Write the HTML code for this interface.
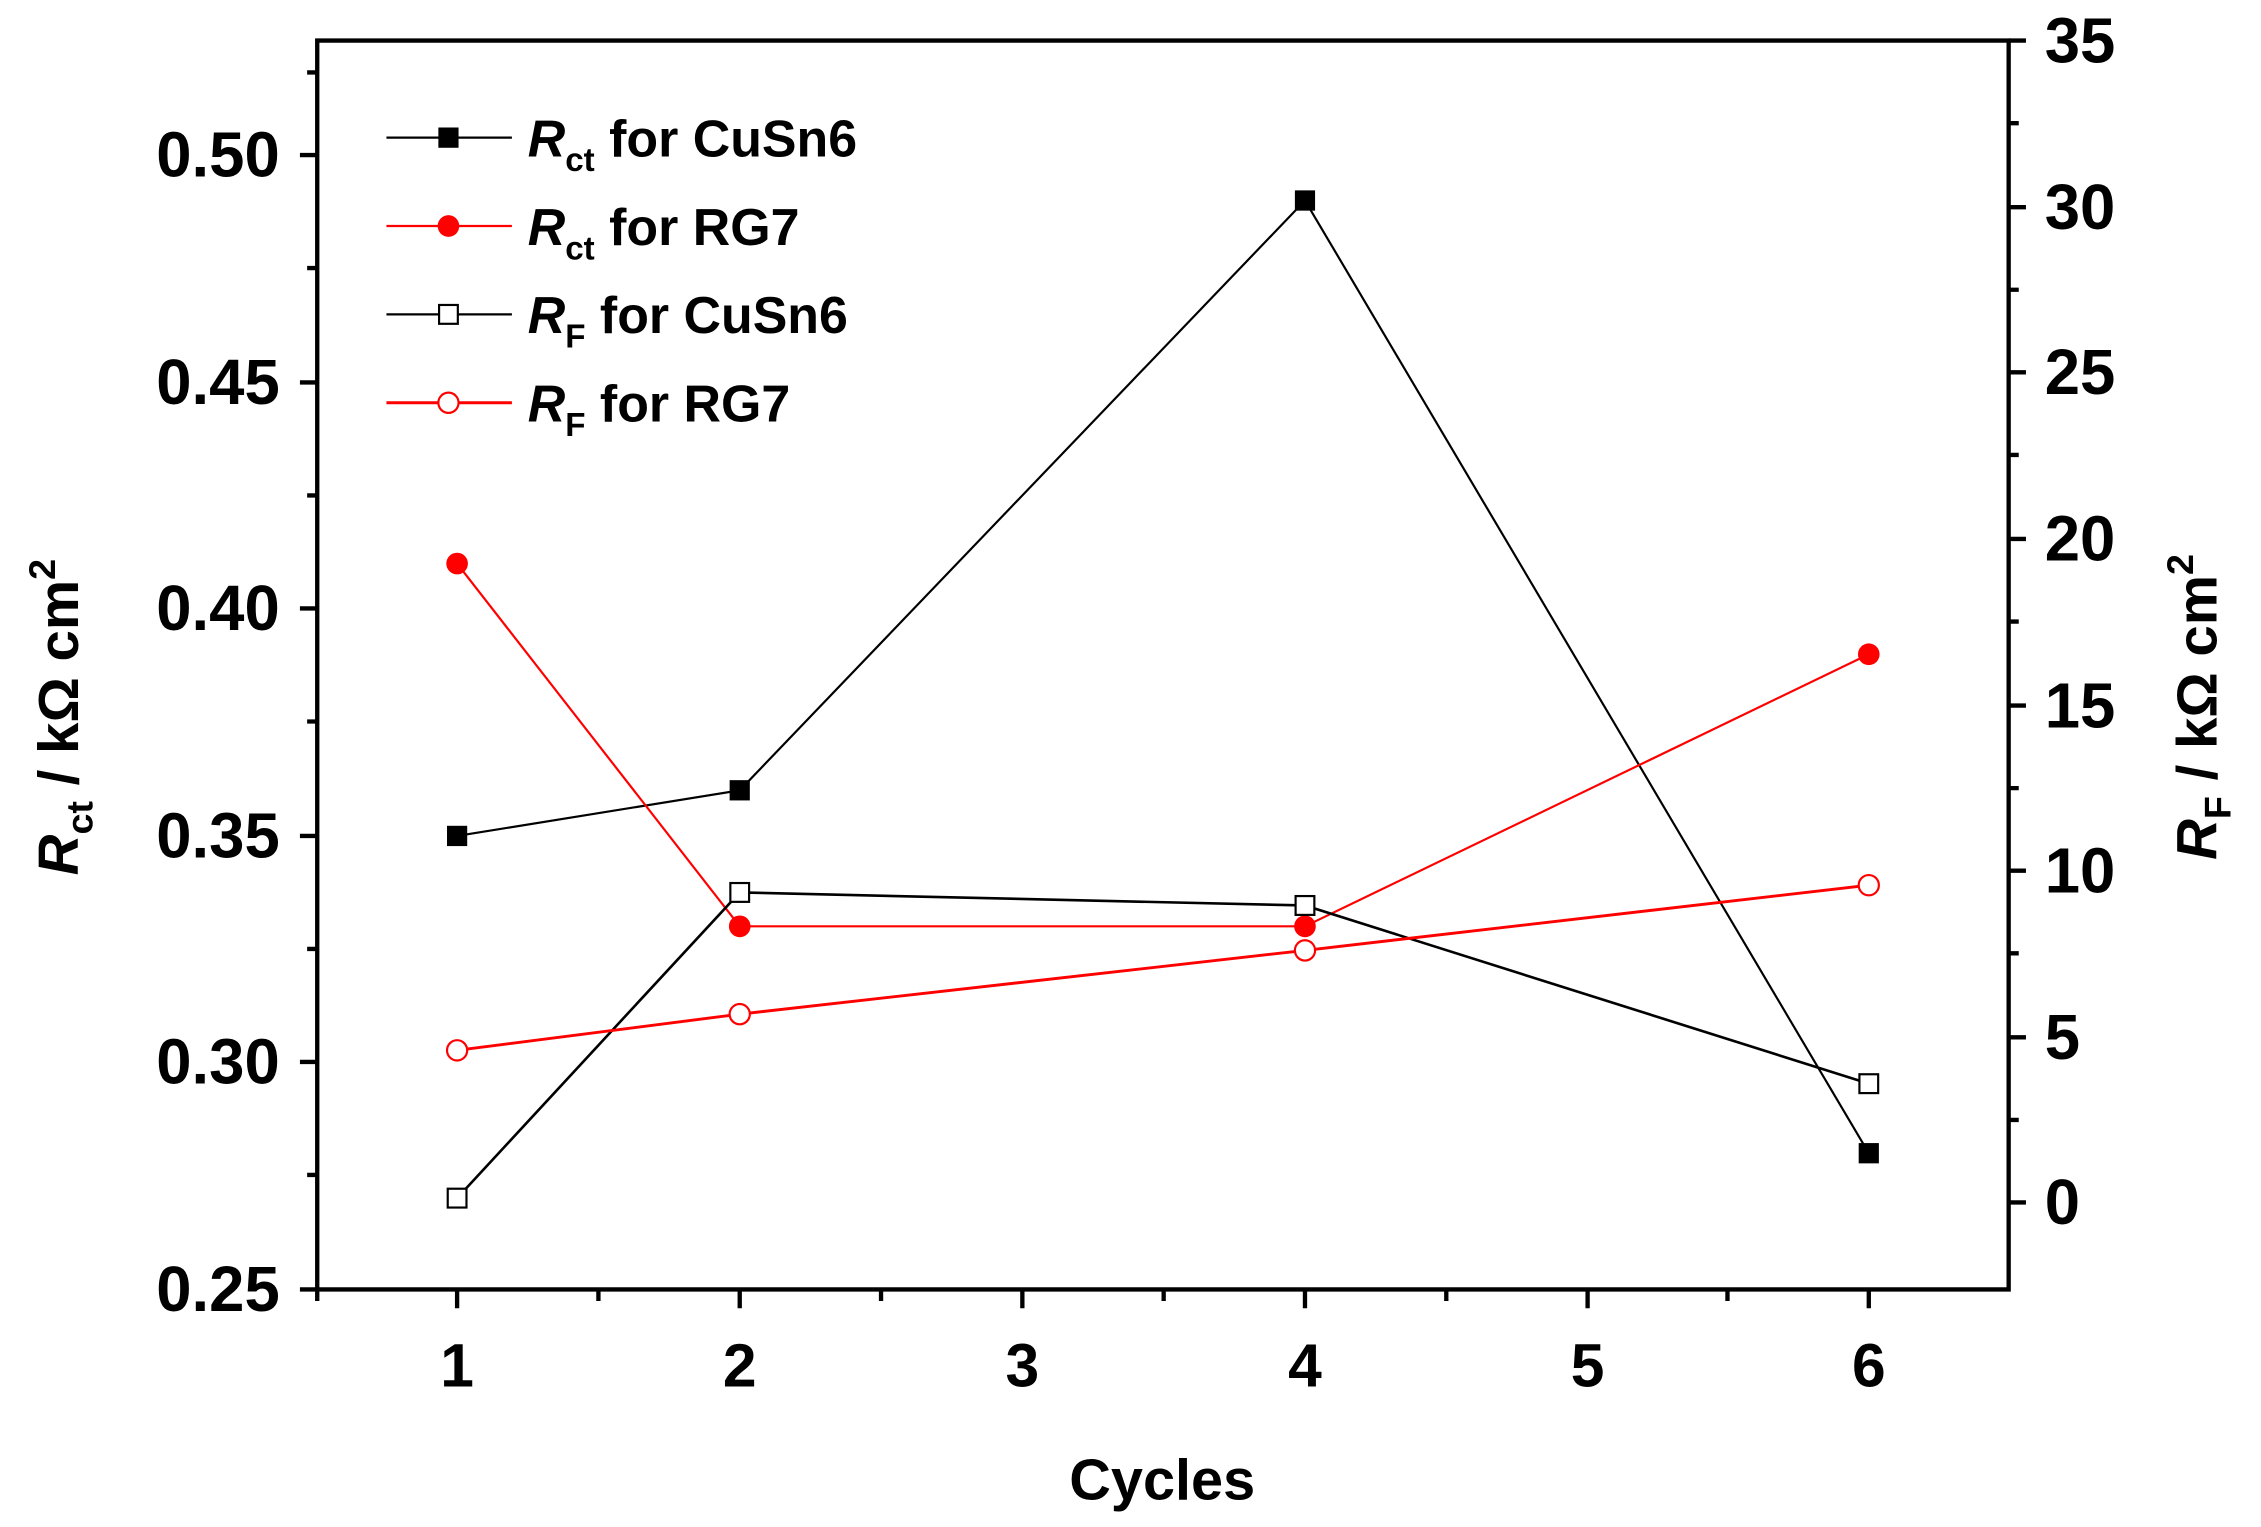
<!DOCTYPE html>
<html><head><meta charset="utf-8"><style>
html,body{margin:0;padding:0;background:#fff;}
svg{display:block;}
text{font-family:"Liberation Sans",Arial,sans-serif;font-weight:bold;fill:#000;}
</style></head><body>
<svg width="2261" height="1527" viewBox="0 0 1568 1054" preserveAspectRatio="none" xmlns="http://www.w3.org/2000/svg">
<rect width="1568" height="1054" fill="#fff"/>
<g stroke="#000" stroke-width="3" fill="none">
<path d="M220 28 H1393 V890 H220 Z"/>
<path d="M220 107h-12M220 264h-12M220 420h-12M220 577h-12M220 733h-12M220 890h-12"/>
<path d="M220 185h-7M220 342h-7M220 498h-7M220 655h-7M220 811h-7M220 50h-7"/>
<path d="M1393 28h12M1393 143h12M1393 257h12M1393 372h12M1393 487h12M1393 601h12M1393 716h12M1393 830h12"/>
<path d="M1393 85h7M1393 200h7M1393 314h7M1393 429h7M1393 544h7M1393 658h7M1393 773h7"/>
<path d="M317 890v13M513 890v13M709 890v13M905 890v13M1101 890v13M1296 890v13"/>
<path d="M220 890v8M415 890v8M611 890v8M807 890v8M1003 890v8M1198 890v8"/>
</g>
<g font-size="44" text-anchor="end">
<text x="194" y="122">0.50</text><text x="194" y="279">0.45</text><text x="194" y="435">0.40</text>
<text x="194" y="592">0.35</text><text x="194" y="748">0.30</text><text x="194" y="905">0.25</text>
</g>
<g font-size="44" text-anchor="start">
<text x="1418" y="43">35</text><text x="1418" y="158">30</text><text x="1418" y="272">25</text>
<text x="1418" y="387">20</text><text x="1418" y="502">15</text><text x="1418" y="616">10</text>
<text x="1418" y="731">5</text><text x="1418" y="845">0</text>
</g>
<g font-size="42" text-anchor="middle">
<text x="317" y="957">1</text><text x="513" y="957">2</text><text x="709" y="957">3</text>
<text x="905" y="957">4</text><text x="1101" y="957">5</text><text x="1296" y="957">6</text>
</g>
<text font-size="40" text-anchor="middle" x="806" y="1035">Cycles</text>
<text font-size="39" text-anchor="middle" transform="translate(54 495) rotate(-90)"><tspan font-style="italic">R</tspan><tspan font-size="26" dy="10">ct</tspan><tspan dy="-10"> / kΩ cm</tspan><tspan font-size="26" dy="-16">2</tspan></text>
<text font-size="39" text-anchor="middle" transform="translate(1537 488) rotate(-90)"><tspan font-style="italic">R</tspan><tspan font-size="26" dy="10">F</tspan><tspan dy="-10"> / kΩ cm</tspan><tspan font-size="26" dy="-16">2</tspan></text>
<polyline points="317,577 513,545.5 905,138.4 1296,796" fill="none" stroke="#000" stroke-width="1.5"/>
<polyline points="317,389 513,639.4 905,639.4 1296,451.6" fill="none" stroke="#f00" stroke-width="1.5"/>
<polyline points="317,827 513,616 905,625 1296,748" fill="none" stroke="#000" stroke-width="1.8"/>
<polyline points="317,725 513,700 905,656 1296,611" fill="none" stroke="#f00" stroke-width="2"/>
<g fill="#000"><rect x="310" y="570" width="14" height="14"/><rect x="506" y="538.5" width="14" height="14"/><rect x="898" y="131.4" width="14" height="14"/><rect x="1289" y="789" width="14" height="14"/></g>
<g fill="#f00"><circle cx="317" cy="389" r="7.5"/><circle cx="513" cy="639.4" r="7.5"/><circle cx="905" cy="639.4" r="7.5"/><circle cx="1296" cy="451.6" r="7.5"/></g>
<g fill="#fff" stroke="#000" stroke-width="1.5"><rect x="310.5" y="820.5" width="13" height="13"/><rect x="506.5" y="609.5" width="13" height="13"/><rect x="898.5" y="618.5" width="13" height="13"/><rect x="1289.5" y="741.5" width="13" height="13"/></g>
<g fill="#fff" stroke="#f00" stroke-width="1.5"><circle cx="317" cy="725" r="7"/><circle cx="513" cy="700" r="7"/><circle cx="905" cy="656" r="7"/><circle cx="1296" cy="611" r="7"/></g>
<g stroke-width="1.5">
<line x1="268" y1="95" x2="355" y2="95" stroke="#000"/><rect x="304" y="88" width="14" height="14" fill="#000"/>
<line x1="268" y1="156" x2="355" y2="156" stroke="#f00"/><circle cx="311" cy="156" r="7.5" fill="#f00"/>
<line x1="268" y1="217" x2="355" y2="217" stroke="#000"/><rect x="304.5" y="210.5" width="13" height="13" fill="#fff" stroke="#000"/>
<line x1="268" y1="278" x2="355" y2="278" stroke="#f00" stroke-width="2"/><circle cx="311" cy="278" r="7" fill="#fff" stroke="#f00"/>
</g>
<g font-size="36">
<text x="366" y="108"><tspan font-style="italic">R</tspan><tspan font-size="23" dy="10">ct</tspan><tspan dy="-10"> for CuSn6</tspan></text>
<text x="366" y="169"><tspan font-style="italic">R</tspan><tspan font-size="23" dy="10">ct</tspan><tspan dy="-10"> for RG7</tspan></text>
<text x="366" y="230"><tspan font-style="italic">R</tspan><tspan font-size="23" dy="10">F</tspan><tspan dy="-10"> for CuSn6</tspan></text>
<text x="366" y="291"><tspan font-style="italic">R</tspan><tspan font-size="23" dy="10">F</tspan><tspan dy="-10"> for RG7</tspan></text>
</g>
</svg>
</body></html>
